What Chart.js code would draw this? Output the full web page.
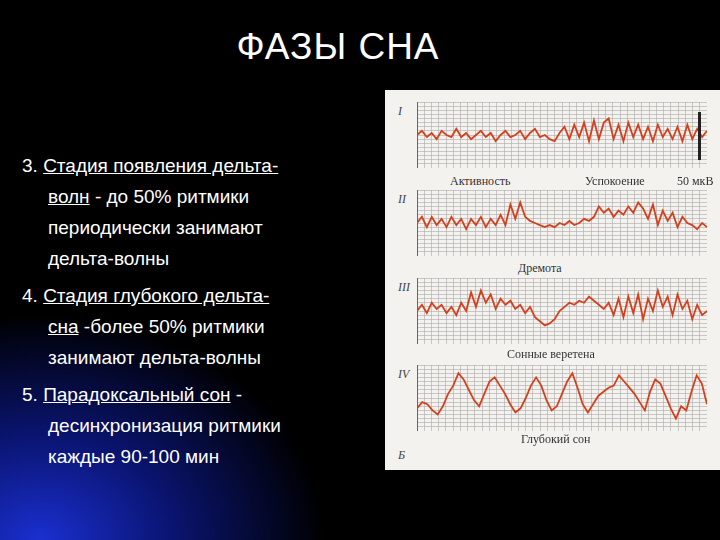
<!DOCTYPE html>
<html><head><meta charset="utf-8">
<script src="https://cdn.jsdelivr.net/npm/chart.js@4"></script>
<style>
body{margin:0;width:720px;height:540px;overflow:hidden;font-family:"Liberation Sans",Arial,sans-serif;
background:radial-gradient(ellipse 380px 300px at 40px 540px,#1a2fd0 0%,#0a1470 35%,#000 75%);color:#fff;position:relative}
#title{position:absolute;left:0;width:676px;top:26px;text-align:center;font-size:37px;letter-spacing:1px}
ol{position:absolute;left:22px;top:150px;margin:0;padding:0;list-style:none;font-size:19px;line-height:31px}
ol li{margin-bottom:6px;padding-left:26px;text-indent:-26px}
u{text-decoration:underline}
#panel{position:absolute;left:385px;top:90px;width:335px;height:380px;background:#f4f2ee}
.c{position:absolute;left:32px;width:290px;height:66px}
.lab{position:absolute;font-family:"Liberation Serif",serif;font-size:12px;color:#333}
.rn{position:absolute;left:13px;font-family:"Liberation Serif",serif;font-style:italic;font-size:12px;color:#444}
</style></head><body>
<div id="title">ФАЗЫ СНА</div>
<ol>
<li>3. <u>Стадия появления дельта-</u><br><u>волн</u> - до 50% ритмики<br>периодически занимают<br>дельта-волны</li>
<li>4. <u>Стадия глубокого дельта-</u><br><u>сна</u> -более 50% ритмики<br>занимают дельта-волны</li>
<li>5. <u>Парадоксальный сон</u> -<br>десинхронизация ритмики<br>каждые 90-100 мин</li>
</ol>
<div id="panel">
<div class="rn" style="top:14px">I</div>
<div class="rn" style="top:102px">II</div>
<div class="rn" style="top:190px">III</div>
<div class="rn" style="top:277px">IV</div>
<div class="rn" style="top:358px">Б</div>
<div class="c" style="top:12px"><canvas id="c1"></canvas></div>
<div class="c" style="top:100px"><canvas id="c2"></canvas></div>
<div class="c" style="top:188px"><canvas id="c3"></canvas></div>
<div class="c" style="top:275px"><canvas id="c4"></canvas></div>
<div style="position:absolute;left:313px;top:22px;width:3px;height:48px;background:#222"></div>
<div class="lab" style="left:65px;top:84px">Активность</div>
<div class="lab" style="left:200px;top:84px">Успокоение</div>
<div class="lab" style="left:292px;top:84px">50 мкВ</div>
<div class="lab" style="left:133px;top:171px">Дремота</div>
<div class="lab" style="left:122px;top:257px">Сонные веретена</div>
<div class="lab" style="left:136px;top:342px">Глубокий сон</div>
</div>
<script>
const traceI=[0,2,-1,1,-2,2,0,-1,3,-1,1,-2,0,2,-1,1,-3,0,2,-1,0,2,-2,1,3,-1,0,-2,-3,1,4,-2,5,-1,6,-3,7,-2,6,8,-2,5,-3,6,-1,5,-2,4,-3,5,-1,3,-2,4,-3,5,-2,3,-1,2];
const traceII=[0,3,-2,3,-1,2,-2,3,-1,2,-3,2,-1,3,-2,2,-1,4,-1,9,2,10,3,1,0,-1,-2,-1,-2,0,-1,1,-1,0,2,1,3,8,5,7,3,6,4,8,5,10,7,2,9,-1,6,1,5,-2,3,0,-1,-3,0,-2];
const traceIII=[0,3,-1,4,1,3,-1,2,-2,4,0,9,2,10,4,8,1,6,3,5,1,3,-1,2,-3,-5,-7,-6,-4,0,2,4,3,5,4,7,5,3,1,4,-2,6,-3,7,-1,8,-4,6,0,10,2,7,-2,8,1,5,-4,3,-2,0];
const traceIV=[-5,-2,-3,-6,-8,-4,2,6,12,9,4,-1,-4,2,8,10,6,2,-3,-7,-5,0,6,10,6,-1,-6,-4,2,8,12,5,-3,-7,-3,1,3,5,6,11,8,5,2,-2,-6,3,9,7,1,-5,-10,-4,-6,3,11,7,-3];
const lists=[traceI,traceII,traceIII,traceIV];
lists.forEach((d,i)=>{
 new Chart(document.getElementById('c'+(i+1)),{type:'line',
  data:{labels:d.map((_,k)=>k),datasets:[{data:d,borderColor:'#d4401e',borderWidth:1.8,pointRadius:0,tension:0}]},
  options:{responsive:true,maintainAspectRatio:false,animation:false,
   plugins:{legend:{display:false},tooltip:{enabled:false}},
   layout:{padding:0},
   scales:{x:{type:'linear',min:0,max:d.length-1,ticks:{display:false,stepSize:(d.length-1)/40},grid:{color:'#aaa',lineWidth:0.6,drawTicks:false},border:{color:'#666'}},
           y:{min:-16,max:16,ticks:{display:false,stepSize:2},grid:{color:'#aaa',lineWidth:0.6,drawTicks:false},border:{color:'#666'}}}}});
});
</script>
</body></html>
